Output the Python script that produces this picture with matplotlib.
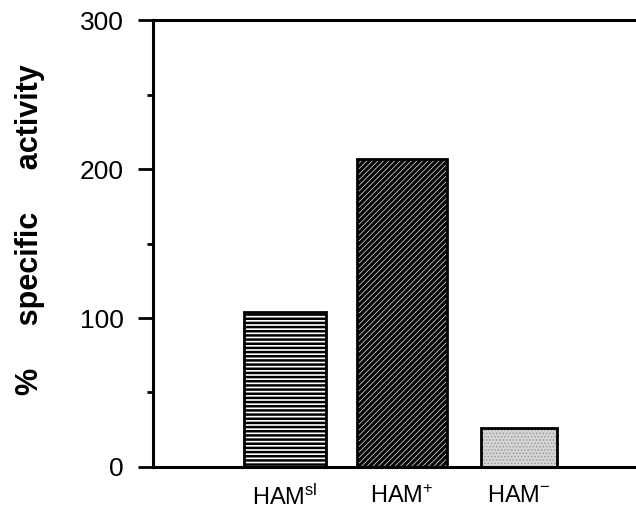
import matplotlib
matplotlib.use('Agg')
import matplotlib.pyplot as plt
from matplotlib.ticker import MultipleLocator

plt.rcParams['font.family'] = ['Liberation Sans', 'DejaVu Sans']
plt.rcParams['mathtext.fontset'] = 'custom'
plt.rcParams['mathtext.rm'] = 'Liberation Sans'
plt.rcParams['mathtext.it'] = 'Liberation Sans'
plt.rcParams['mathtext.default'] = 'regular'

# dados
grupos = ['HAM$^{sl}$', 'HAM$^{+}$', 'HAM$^{-}$']
atividade = [104, 207, 26]
larguras = [0.70, 0.77, 0.65]
preenchimento = ['white', '#050505', '#d6d6d6']
hachura = ['----', '//////', '.....']
cor_hachura = ['black', 'white', '#a0a0a0']
espessura_hachura = [1.8, 0.45, 0.8]

fig = plt.figure(figsize=(6.36, 5.12), dpi=100)
ax = fig.add_axes([0.2406, 0.0879, 0.7594, 0.873])

x = list(range(len(grupos)))
for i in x:
    # fundo + hachura, depois o contorno preto
    with plt.rc_context({'hatch.linewidth': espessura_hachura[i]}):
        ax.bar(x[i], atividade[i], width=larguras[i], color=preenchimento[i],
               hatch=hachura[i], edgecolor=cor_hachura[i], linewidth=0, zorder=2)
    ax.bar(x[i], atividade[i], width=larguras[i], fill=False,
           edgecolor='black', linewidth=2.0, zorder=3)

ax.set_xlim(-1.13, 3.0)
ax.set_ylim(0, 300)

ax.spines['right'].set_visible(False)
for s in ['left', 'bottom', 'top']:
    ax.spines[s].set_linewidth(2.2)

ax.yaxis.set_major_locator(MultipleLocator(100))
ax.yaxis.set_minor_locator(MultipleLocator(50))
ax.tick_params(axis='y', which='major', length=11, width=2.0, pad=10,
               labelsize=19)
ax.tick_params(axis='y', which='minor', length=4.5, width=2.0)
ax.tick_params(axis='x', length=0, pad=13, labelsize=17)
ax.set_xticks(x)
ax.set_xticklabels(grupos)

ax.set_ylabel('%     specific     activity', fontsize=22, fontweight='bold')
ax.yaxis.set_label_coords(-0.224, 0.53)

fig.savefig('out.png', dpi=100)
